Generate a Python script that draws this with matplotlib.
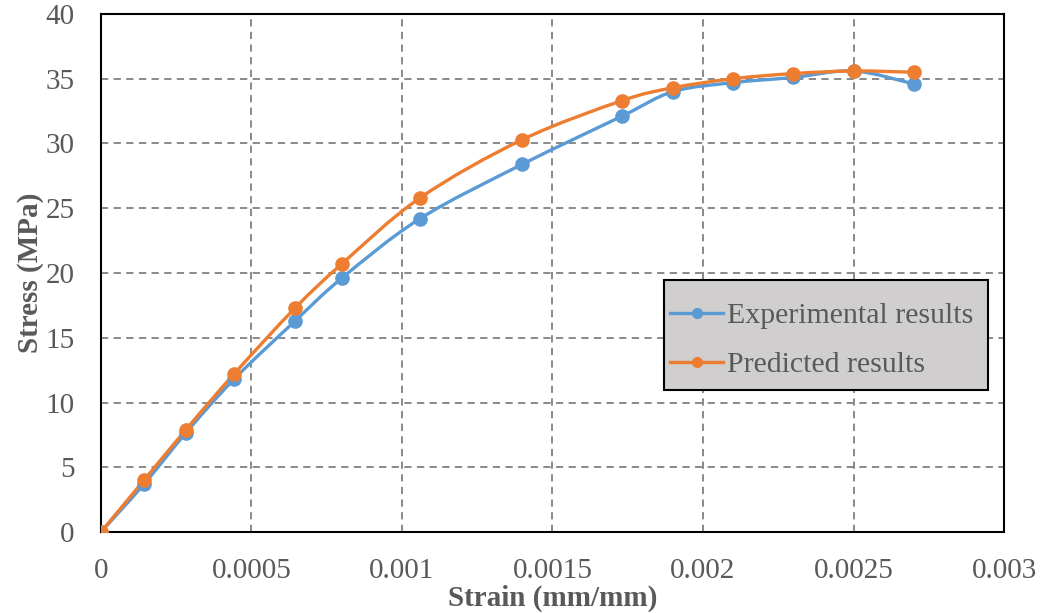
import matplotlib
matplotlib.use('Agg')
import matplotlib.pyplot as plt
from matplotlib.path import Path
from matplotlib.patches import PathPatch, Rectangle
import numpy as np

strain = [0, 0.000143, 0.000282, 0.000442, 0.000645, 0.0008, 0.00106,
          0.0014, 0.00173, 0.0019, 0.0021, 0.0023, 0.0025, 0.0027]
exp_stress = [0, 3.7, 7.65, 11.8, 16.3, 19.6, 24.2,
              28.4, 32.1, 34.0, 34.7, 35.1, 35.6, 34.6]
pred_stress = [0, 4.0, 7.9, 12.2, 17.3, 20.7, 25.8,
               30.3, 33.3, 34.3, 35.0, 35.4, 35.6, 35.5]

xticks = [0, 0.0005, 0.001, 0.0015, 0.002, 0.0025, 0.003]
xtick_labels = ['0', '0.0005', '0.001', '0.0015', '0.002', '0.0025', '0.003']
yticks = [0, 5, 10, 15, 20, 25, 30, 35, 40]

blue = '#5B9BD5'
orange = '#ED7D31'
grey_text = '#595959'

plt.rcParams['font.family'] = ['Liberation Serif', 'DejaVu Serif']


def smooth_path(x, y):
    # Catmull-Rom style bezier through the points (like Excel's smoothed line)
    x = np.asarray(x, float)
    y = np.asarray(y, float)
    n = len(x)
    verts = [(x[0], y[0])]
    codes = [Path.MOVETO]
    for i in range(n - 1):
        i0 = max(i - 1, 0)
        i3 = min(i + 2, n - 1)
        c1 = (x[i] + (x[i + 1] - x[i0]) / 6, y[i] + (y[i + 1] - y[i0]) / 6)
        c2 = (x[i + 1] - (x[i3] - x[i]) / 6, y[i + 1] - (y[i3] - y[i]) / 6)
        verts += [c1, c2, (x[i + 1], y[i + 1])]
        codes += [Path.CURVE4] * 3
    return Path(verts, codes)


fig = plt.figure(figsize=(10.44, 6.13), dpi=100)
ax = fig.add_axes([0.0967, 0.1321, 0.8650, 0.8451])

for ys, c, lab in [(exp_stress, blue, 'Experimental results'),
                   (pred_stress, orange, 'Predicted results')]:
    ax.add_patch(PathPatch(smooth_path(strain, ys), facecolor='none',
                           edgecolor=c, lw=2.4, zorder=3))
    ax.plot(strain, ys, linestyle='none', marker='o', color=c,
            markersize=9.5, zorder=4)
    ax.plot([], [], color=c, lw=2.4, marker='o', markersize=7, label=lab)

ax.set_xlim(0, 0.003)
ax.set_ylim(0, 40)
ax.set_xticks(xticks)
ax.set_xticklabels(xtick_labels)
ax.set_yticks(yticks)
ax.tick_params(length=0, labelsize=21, labelcolor=grey_text)
ax.tick_params(axis='x', pad=18.5)
ax.tick_params(axis='y', pad=19)
ax.grid(True, color='#808080', linestyle=(0, (4, 3)), lw=1.3)
ax.set_axisbelow(True)
for s in ax.spines.values():
    s.set_color('black')
    s.set_linewidth(1.5)

ax.set_xlabel('Strain (mm/mm)', fontsize=21, fontweight='bold',
              color=grey_text, labelpad=1)
ax.set_ylabel('Stress (MPa)', fontsize=21, fontweight='bold',
              color=grey_text, labelpad=1)

# legend box drawn separately (wider vertical padding than horizontal)
box = (0.6235, 0.274, 0.359, 0.212)
ax.add_patch(Rectangle(box[:2], box[2], box[3], transform=ax.transAxes,
                       facecolor='#D0CECE', edgecolor='black', lw=1.5,
                       zorder=5))
leg = ax.legend(loc='center',
                bbox_to_anchor=(box[0] - 0.0045, box[1] - 0.01, box[2], box[3]),
                fontsize=21.5, frameon=False, handlelength=1.75,
                handletextpad=0.15, borderpad=0.25, labelspacing=0.75,
                borderaxespad=0)
leg.set_zorder(6)
for t in leg.get_texts():
    t.set_color(grey_text)

fig.savefig('out.png', dpi=100)
